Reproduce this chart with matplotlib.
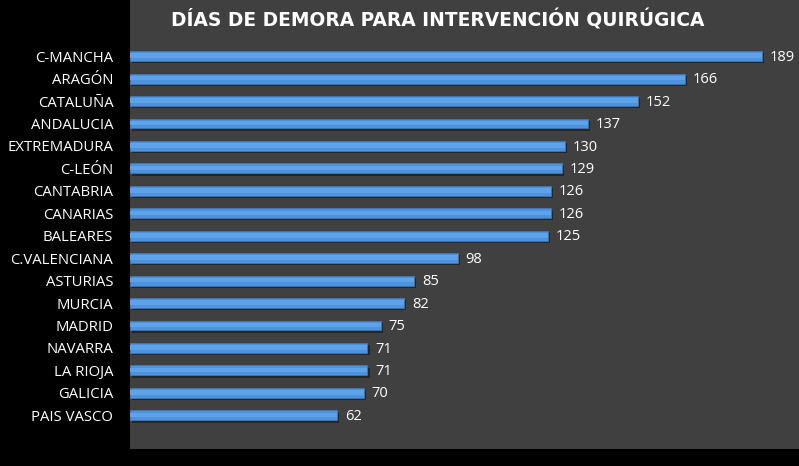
import matplotlib.pyplot as plt
import numpy as np

# ====== データ ======
regions = ["C-MANCHA", "ARAGÓN", "CATALUÑA", "ANDALUCIA", "EXTREMADURA", "C-LEÓN",
           "CANTABRIA", "CANARIAS", "BALEARES", "C.VALENCIANA", "ASTURIAS", "MURCIA",
           "MADRID", "NAVARRA", "LA RIOJA", "GALICIA", "PAIS VASCO"]
days = [189, 166, 152, 137, 130, 129, 126, 126, 125, 98, 85, 82, 75, 71, 71, 70, 62]
title = "DÍAS DE DEMORA PARA INTERVENCIÓN QUIRÚGICA"

plt.rcParams["font.family"] = ["Open Sans", "DejaVu Sans"]

fig = plt.figure(figsize=(7.99, 4.66), dpi=100, facecolor="black")
ax = fig.add_axes([130 / 799, 17 / 466, 669 / 799, 449 / 466])
ax.set_facecolor("#404040")

y = np.arange(len(regions))
# sombra
ax.barh(y + 0.1, days, height=0.44, color="#262626", left=0.6)
ax.barh(y, days, height=0.44, color="#4d92dc", edgecolor="#3f7cc0", linewidth=0.5)
ax.barh(y - 0.02, days, height=0.2, color="#5ea3ea")

for yi, v in zip(y, days):
    ax.text(v + 2.3, yi + 0.05, str(v), color="white", fontsize=10.5, va="center", ha="left")

ax.set_yticks(y)
ax.set_yticklabels(regions, color="white", fontsize=10.7)
ax.tick_params(axis="y", length=0, pad=12)
ax.set_xticks([])
ax.set_xlim(0, 200)
ax.set_ylim(len(regions) - 1 + 1.5, -2.5)
for s in ax.spines.values():
    s.set_visible(False)

ax.text(0.46, 0.955, title, transform=ax.transAxes, ha="center", va="center",
        color="white", fontsize=13.4, fontweight="bold", family="DejaVu Sans")

fig.savefig("out.png", dpi=100, facecolor="black")
